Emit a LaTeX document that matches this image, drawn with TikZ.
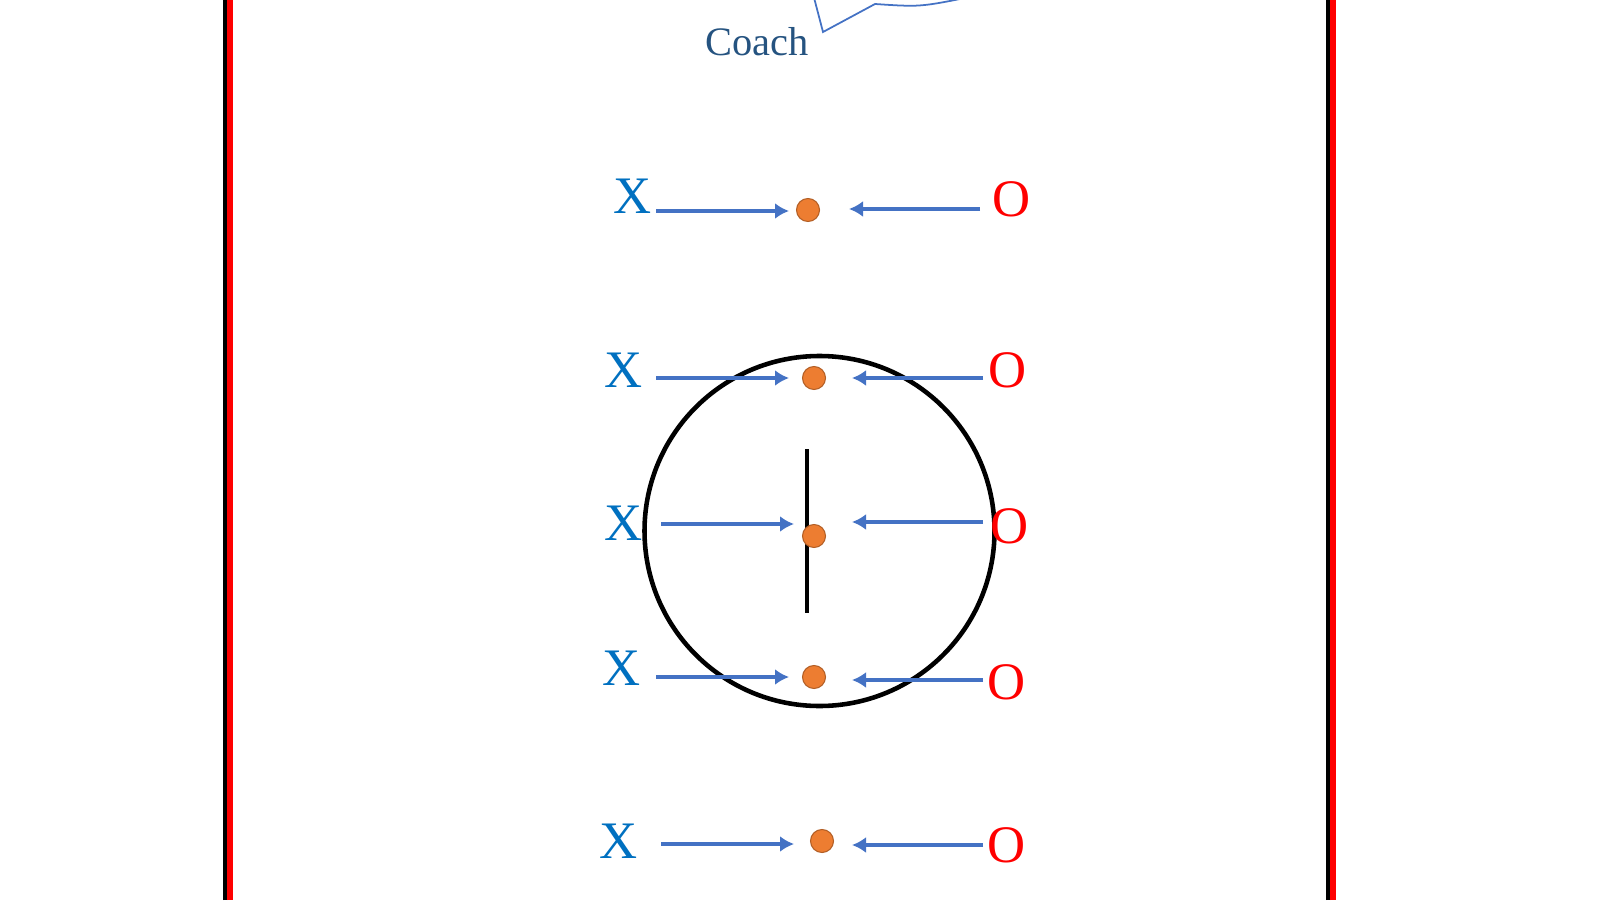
\documentclass[tikz,border=0pt]{standalone}
\usepackage{fontspec}
\setmainfont{Liberation Serif}
\usetikzlibrary{arrows.meta}
\definecolor{xblue}{RGB}{0,112,192}
\definecolor{arrowblue}{RGB}{68,114,196}
\definecolor{dotorange}{RGB}{237,125,49}
\definecolor{coachblue}{RGB}{37,83,128}
\begin{document}
\begin{tikzpicture}[
    move/.style={arrowblue,line width=1.1pt,-{Latex[length=1.4mm,width=1.6mm]}},
    puck/.style={circle,fill=dotorange,draw=dotorange!75!black,line width=0.3pt,minimum size=2.3mm,inner sep=0pt},
    xplayer/.style={xblue,font=\fontsize{15}{18}\selectfont,inner sep=0pt},
    oplayer/.style={red,font=\fontsize{15}{18}\selectfont,inner sep=0pt}]
    \useasboundingbox (0,0) rectangle (16,9);
    \clip (0,0) rectangle (16,9);
    % boards
    \draw[line width=0.35mm] (2.25,0) -- (2.25,9);
    \draw[red,line width=0.6mm] (2.30,0) -- (2.30,9);
    \draw[line width=0.35mm] (13.28,0) -- (13.28,9);
    \draw[red,line width=0.6mm] (13.33,0) -- (13.33,9);
    % faceoff circle
    \draw[line width=1.3pt] (8.195,3.69) circle (1.75);
    \draw[line width=1.2pt] (8.07,4.51) -- (8.07,2.87);
    % coach
    \node[coachblue,font=\fontsize{11.5}{14}\selectfont] (coach) at (7.57,8.58) {Coach};
    \draw[arrowblue,line width=0.5pt] (8.12,9.1) -- (8.23,8.68) -- (8.75,8.96)
    .. controls (9.2,8.93) .. (9.7,9.03);
    % players
    \foreach \i/\xx/\xy/\ax/\ay/\dx/\dy/\bx/\by/\ox/\oy in {
        1/6.33/7.04/6.56/6.89/8.08/6.90/9.80/6.91/10.12/7.01,
        2/6.24/5.30/6.56/5.22/8.14/5.22/9.83/5.22/10.08/5.30,
        3/6.24/3.77/6.61/3.76/8.14/3.64/9.83/3.78/10.10/3.74,
        4/6.22/2.32/6.56/2.23/8.14/2.23/9.83/2.20/10.07/2.18,
        5/6.19/0.59/6.61/0.56/8.22/0.59/9.83/0.55/10.07/0.55}{
        \node[xplayer] (x\i) at (\xx,\xy) {X};
        \node[oplayer] (o\i) at (\ox,\oy) {O};
        \coordinate (xs\i) at (\ax,\ay);
        \coordinate (xe\i) at ({\ax+1.33},\ay);
        \coordinate (os\i) at (\bx,\by);
        \coordinate (oe\i) at ({\bx-1.31},\by);
        \draw[move] (xs\i) -- (xe\i);
        \draw[move] (os\i) -- (oe\i);
        \node[puck] (p\i) at (\dx,\dy) {};
    }
\end{tikzpicture}
\end{document}
